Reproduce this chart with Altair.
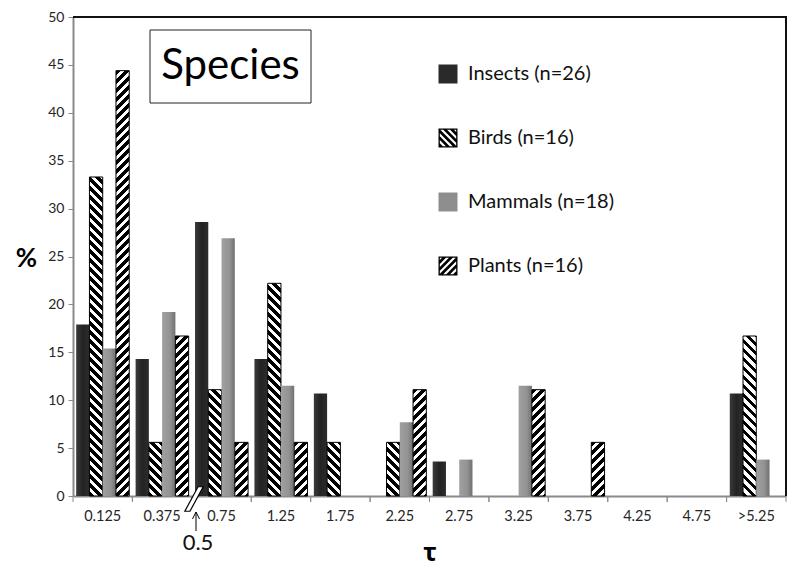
import altair as alt

# ---------------- data ----------------
categories = ["0.125", "0.375", "0.75", "1.25", "1.75", "2.25", "2.75",
              "3.25", "3.75", "4.25", "4.75", ">5.25"]
series = ["Insects (n=26)", "Birds (n=16)", "Mammals (n=18)", "Plants (n=16)"]
insects = [17.9, 14.3, 28.6, 14.3, 10.7, 0, 3.6, 0, 0, 0, 0, 10.7]
birds = [33.3, 5.6, 11.1, 22.2, 5.6, 5.6, 0, 0, 0, 0, 0, 16.7]
mammals = [15.4, 19.2, 26.9, 11.5, 0, 7.7, 3.8, 11.5, 0, 0, 0, 3.8]
plants = [44.4, 16.7, 5.6, 5.6, 0, 11.1, 0, 11.1, 5.6, 0, 0, 0]
y_ticks = list(range(0, 51, 5))

# ---------------- layout ----------------
W, H = 713, 479
YMAX = 50
OFFSET_PAD = 0.24
BAR_W = W / len(categories) / (4 + 2 * OFFSET_PAD)


def hatch_gradient(w, h, direction, period=9.0, frac=0.55):
    """Diagonal stripes as a linear gradient in bounding-box units."""
    k = (w + h) / (w * w + h * h)
    if direction == "back":   # "\" stripes
        x1, y1, x2, y2 = 0, 1, k * w, 1 - k * h
    else:                     # "/" stripes
        x1, y1, x2, y2 = 0, 0, k * w, k * h
    step = period / (w + h)
    stops = []
    i = 0
    while i * step < 1:
        a = i * step
        b = min(a + frac * step, 1)
        c = min((i + 1) * step, 1)
        stops += [{"offset": a, "color": "#000"}, {"offset": b, "color": "#000"}]
        if b < 1:
            stops += [{"offset": b, "color": "#fff"}, {"offset": c, "color": "#fff"}]
        i += 1
    return {"gradient": "linear", "x1": x1, "y1": y1, "x2": x2, "y2": y2,
            "stops": stops}


insect_grad = {"gradient": "linear", "x1": 0, "y1": 0, "x2": 1, "y2": 0,
               "stops": [{"offset": 0, "color": "#3a3a3a"},
                         {"offset": 0.5, "color": "#232323"},
                         {"offset": 1, "color": "#2c2c2c"}]}
mammal_grad = {"gradient": "linear", "x1": 0, "y1": 0, "x2": 1, "y2": 0,
               "stops": [{"offset": 0, "color": "#a0a0a0"},
                         {"offset": 0.6, "color": "#939393"},
                         {"offset": 1, "color": "#707070"}]}

bar_rows = []
for s, vals in zip(series, [insects, birds, mammals, plants]):
    for c, v in zip(categories, vals):
        if v <= 0:
            continue
        h = v / YMAX * H
        if s.startswith("Insects"):
            g, st = insect_grad, "transparent"
        elif s.startswith("Mammals"):
            g, st = mammal_grad, "transparent"
        elif s.startswith("Birds"):
            g, st = hatch_gradient(BAR_W, h, "back"), "#000"
        else:
            g, st = hatch_gradient(BAR_W, h, "fwd"), "#000"
        bar_rows.append({"cat": c, "series": s, "value": v, "grad": g, "stroke": st})


# ---------------- legend symbol paths ----------------
def clip_square(poly, lo, hi):
    def clip(pts, inside, inter):
        out = []
        n = len(pts)
        for i in range(n):
            cur, prev = pts[i], pts[i - 1]
            if inside(cur):
                if not inside(prev):
                    out.append(inter(prev, cur))
                out.append(cur)
            elif inside(prev):
                out.append(inter(prev, cur))
        return out

    def ix(p, q, xv):
        t = (xv - p[0]) / (q[0] - p[0])
        return (xv, p[1] + t * (q[1] - p[1]))

    def iy(p, q, yv):
        t = (yv - p[1]) / (q[1] - p[1])
        return (p[0] + t * (q[0] - p[0]), yv)

    pts = poly
    pts = clip(pts, lambda p: p[0] >= lo, lambda p, q: ix(p, q, lo))
    if pts:
        pts = clip(pts, lambda p: p[0] <= hi, lambda p, q: ix(p, q, hi))
    if pts:
        pts = clip(pts, lambda p: p[1] >= lo, lambda p, q: iy(p, q, lo))
    if pts:
        pts = clip(pts, lambda p: p[1] <= hi, lambda p, q: iy(p, q, hi))
    return pts


def hatch_symbol(direction, p=0.72, d=0.4, inner=0.86):
    path = "M-1,-1L1,-1L1,1L-1,1Z"
    path += "M%.3f,%.3fL%.3f,%.3fL%.3f,%.3fL%.3f,%.3fZ" % (
        -inner, -inner, -inner, inner, inner, inner, inner, -inner)
    c = -2.2
    while c < 2.2:
        if direction == "back":
            poly = [(-3, -3 + c), (3, 3 + c), (3, 3 + c + d), (-3, -3 + c + d)]
        else:
            poly = [(-3, 3 + c), (3, -3 + c), (3, -3 + c + d), (-3, 3 + c + d)]
        pts = clip_square(poly, -inner, inner)
        if len(pts) >= 3:
            path += "M" + "L".join("%.3f,%.3f" % pt for pt in pts) + "Z"
        c += p
    return path


legend_shapes = ["square", hatch_symbol("back"), "square", hatch_symbol("fwd")]
legend_colors = ["#2a2a2a", "#000000", "#8e8e8e", "#000000"]

# ---------------- scales / axes ----------------
xscale = alt.Scale(domain=categories, paddingInner=0, paddingOuter=0)
xaxis = alt.Axis(ticks=False, labelPadding=13, labelFontSize=14.5, labelColor="#262626",
                 labelFont="Lato", domainColor="#8a8a8a", domainWidth=2,
                 titleFont="Noto Sans", titleFontSize=25, titleFontWeight="bold",
                 titleColor="#000", titleY=56, titleBaseline="middle", labelAngle=0)
yaxis = alt.Axis(values=y_ticks, tickSize=5, tickColor="#8a8a8a", labelPadding=4,
                 labelFontSize=14, labelColor="#262626", labelFont="Lato",
                 domainColor="#8a8a8a", domainWidth=2, grid=False,
                 titleAngle=0, titleX=-47, titleY=241, titleAlign="center",
                 titleBaseline="middle", titleFont="Lato", titleFontSize=26,
                 titleFontWeight="bold", titleColor="#000")

X = dict(field="cat", type="nominal", scale=xscale, sort=categories, axis=xaxis, title="τ")

bars = alt.Chart(alt.Data(values=bar_rows)).mark_bar().encode(
    x=alt.X(**X),
    xOffset=alt.XOffset("series:N", scale=alt.Scale(domain=series, paddingInner=0,
                                                     paddingOuter=OFFSET_PAD)),
    y=alt.Y("value:Q", scale=alt.Scale(domain=[0, YMAX], nice=False), axis=yaxis, title="%"),
    fill=alt.Fill("grad:N", scale=None),
    stroke=alt.Stroke("stroke:N", scale=None),
    strokeWidth=alt.value(1),
)

cat_data = alt.Data(values=[{"cat": c} for c in categories])
ticks_start = alt.Chart(cat_data).mark_rule(color="#8a8a8a", strokeWidth=1).encode(
    x=alt.X(bandPosition=0, **X), y=alt.value(H), y2=alt.value(H + 6))
ticks_end = alt.Chart(cat_data).mark_rule(color="#8a8a8a", strokeWidth=1).encode(
    x=alt.X(bandPosition=1, **X), y=alt.value(H), y2=alt.value(H + 6))

one = alt.Data(values=[{"a": 1}])
top_border = alt.Chart(one).mark_rule(color="#111", strokeWidth=2).encode(
    x=alt.value(0), x2=alt.value(W + 1), y=alt.value(0))
right_border = alt.Chart(one).mark_rule(color="#111", strokeWidth=2).encode(
    x=alt.value(W), y=alt.value(0), y2=alt.value(H))

legend_def = dict(
    orient="none", legendX=365, legendY=47, title=None,
    labelFontSize=20, labelFont="Lato", labelColor="#111",
    symbolSize=361, rowPadding=44, labelOffset=10, gridAlign="all",
    symbolStrokeWidth=0, symbolOpacity=1, padding=0, labelBaseline="middle")

# legend from an empty layer with explicit scale domains
legend_layer = alt.Chart(alt.Data(values=[{"series": s} for s in series])).mark_point(
    filled=True, size=361).encode(
    color=alt.Color("series:N", scale=alt.Scale(domain=series, range=legend_colors),
                    legend=alt.Legend(**legend_def)),
    shape=alt.Shape("series:N", scale=alt.Scale(domain=series, range=legend_shapes),
                    legend=alt.Legend(**legend_def)),
).transform_filter("false")

# "Species" box
species_box = alt.Chart(one).mark_rect(fill="white", stroke="#222", strokeWidth=1).encode(
    x=alt.value(77), x2=alt.value(238), y=alt.value(13), y2=alt.value(86))
species_text = alt.Chart(one).mark_text(
    text="Species", font="Lato", fontSize=42, color="#000", baseline="alphabetic",
    align="center").encode(x=alt.value(157.5), y=alt.value(62))

# axis-break mark and "0.5" annotation
break_mark = alt.Chart(one).mark_point(
    shape="M-0.75,1L-0.33,1L0.75,-1L0.33,-1Z", size=600, filled=True,
    fill="white", stroke="#000", strokeWidth=1.2, opacity=1).encode(
    x=alt.value(121), y=alt.value(H + 3))
arrow_shaft = alt.Chart(one).mark_rule(color="#000", strokeWidth=1).encode(
    x=alt.value(123), y=alt.value(H + 16), y2=alt.value(H + 35))
arrow_head = alt.Chart(one).mark_point(
    shape="M-1,1L0,-1L1,1", size=49, filled=False, stroke="#000", strokeWidth=1,
    opacity=1).encode(x=alt.value(123), y=alt.value(H + 19.5))
half_text = alt.Chart(one).mark_text(
    text="0.5", font="Lato", fontSize=22, color="#111", baseline="middle",
    align="center").encode(x=alt.value(125), y=alt.value(H + 47))

chart = alt.layer(
    bars, ticks_start, ticks_end, top_border, right_border, legend_layer,
    species_box, species_text, break_mark, arrow_shaft, arrow_head, half_text,
).properties(
    width=W, height=H,
    autosize=alt.AutoSizeParams(type="none"),
    padding={"left": 65, "top": 9, "right": 6, "bottom": 75},
).configure_view(stroke=None).configure(font="Lato")

chart.save("out.html", embed_options={"renderer": "svg", "actions": False})
